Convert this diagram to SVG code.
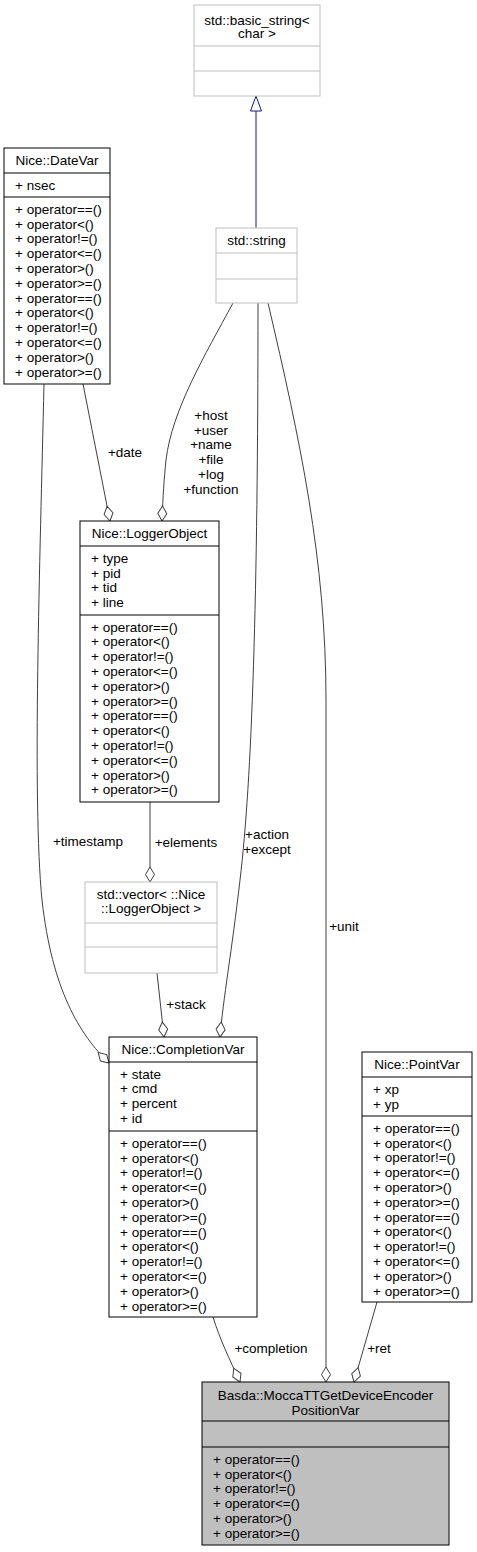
<svg xmlns="http://www.w3.org/2000/svg" width="477" height="1552" viewBox="0 0 477 1552">
<style>
.t{font-family:"Liberation Sans",Arial,Helvetica,sans-serif;font-size:13.5px;fill:#000}
.c{text-anchor:middle}
.box{fill:#fff;stroke:#000;stroke-width:1}
.ext{fill:#fff;stroke:#bfbfbf;stroke-width:1}
.main{fill:#bfbfbf;stroke:#000;stroke-width:1}
.sep{stroke:#000;stroke-width:1}
.sepx{stroke:#bfbfbf;stroke-width:1}
.edge{fill:none;stroke:#404040;stroke-width:1;marker-end:url(#dia)}
.inh{fill:none;stroke:#191970;stroke-width:1}
</style>
<defs>
<marker id="dia" markerWidth="17" markerHeight="11" refX="16" refY="5.5" orient="auto" markerUnits="userSpaceOnUse" viewBox="0 0 17 11">
<path d="M1,5.5 L8.5,1 L16,5.5 L8.5,10 Z" fill="#fff" stroke="#404040" stroke-width="1"/>
</marker>
</defs>
<rect width="477" height="1552" fill="#fff"/>

<g id="connectors">
<path class="inh" d="M256,228 V111"/>
<polygon points="256,96 250.5,111 261.5,111" fill="#fff" stroke="#191970"/>
<path class="edge" d="M44,384 C40,560 32,800 42,900 C52,990 80,1035 109,1063"/>
<path class="edge" d="M233,303 C205,355 172,410 166,460 C164,480 163,495 162,521"/>
<path class="edge" d="M83,384 L110,521"/>
<path class="edge" d="M150,802 L150,882"/>
<path class="edge" d="M157,973 L164,1037"/>
<path class="edge" d="M258,303 C258,600 252,780 240,880 C232,950 223,1000 220,1037"/>
<path class="edge" d="M268,303 C300,440 326,560 326,700 L326,1382"/>
<path class="edge" d="M213,1317 C220,1340 230,1360 240,1382"/>
<path class="edge" d="M377,1302 L354,1382"/>
<text class="t c" x="125" y="456.7">+date</text>
<text class="t c" y="419.7"><tspan x="211">+host</tspan><tspan x="211" dy="14.8">+user</tspan><tspan x="211" dy="14.8">+name</tspan><tspan x="211" dy="14.8">+file</tspan><tspan x="211" dy="14.8">+log</tspan><tspan x="211" dy="14.8">+function</tspan></text>
<text class="t c" x="88" y="845.7">+timestamp</text>
<text class="t c" x="186" y="846.7">+elements</text>
<text class="t c" y="838.7"><tspan x="267">+action</tspan><tspan x="267" dy="14.8">+except</tspan></text>
<text class="t c" x="344" y="930.7">+unit</text>
<text class="t c" x="186" y="1008.7">+stack</text>
<text class="t c" x="271" y="1352.7">+completion</text>
<text class="t c" x="379" y="1352.7">+ret</text>
</g>

<g id="basic_string">
<rect class="ext" x="194" y="5" width="126" height="91"/>
<line class="sepx" x1="194" y1="46" x2="320" y2="46"/>
<line class="sepx" x1="194" y1="71" x2="320" y2="71"/>
<text class="t c" y="24.5"><tspan x="257">std::basic_string&lt;</tspan><tspan x="257" dy="13.5">char &gt;</tspan></text>
</g>

<g id="std_string">
<rect class="ext" x="216" y="228" width="81" height="75"/>
<line class="sepx" x1="216" y1="253" x2="297" y2="253"/>
<line class="sepx" x1="216" y1="279" x2="297" y2="279"/>
<text class="t c" x="256.5" y="245">std::string</text>
</g>

<g id="DateVar">
<rect class="box" x="4" y="148" width="106" height="236"/>
<line class="sep" x1="4" y1="173" x2="110" y2="173"/>
<line class="sep" x1="4" y1="197" x2="110" y2="197"/>
<text class="t c" x="57" y="165">Nice::DateVar</text>
<text class="t" x="15" y="189.7">+ nsec</text>
<text class="t" y="213.7"><tspan x="15">+ operator==()</tspan><tspan x="15" dy="14.8">+ operator&lt;()</tspan><tspan x="15" dy="14.8">+ operator!=()</tspan><tspan x="15" dy="14.8">+ operator&lt;=()</tspan><tspan x="15" dy="14.8">+ operator&gt;()</tspan><tspan x="15" dy="14.8">+ operator&gt;=()</tspan><tspan x="15" dy="14.8">+ operator==()</tspan><tspan x="15" dy="14.8">+ operator&lt;()</tspan><tspan x="15" dy="14.8">+ operator!=()</tspan><tspan x="15" dy="14.8">+ operator&lt;=()</tspan><tspan x="15" dy="14.8">+ operator&gt;()</tspan><tspan x="15" dy="14.8">+ operator&gt;=()</tspan></text>
</g>

<g id="LoggerObject">
<rect class="box" x="80" y="521" width="139" height="281"/>
<line class="sep" x1="80" y1="546" x2="219" y2="546"/>
<line class="sep" x1="80" y1="615" x2="219" y2="615"/>
<text class="t c" x="149.5" y="538.2">Nice::LoggerObject</text>
<text class="t" y="562.7"><tspan x="91">+ type</tspan><tspan x="91" dy="14.8">+ pid</tspan><tspan x="91" dy="14.8">+ tid</tspan><tspan x="91" dy="14.8">+ line</tspan></text>
<text class="t" y="631.5"><tspan x="91">+ operator==()</tspan><tspan x="91" dy="14.8">+ operator&lt;()</tspan><tspan x="91" dy="14.8">+ operator!=()</tspan><tspan x="91" dy="14.8">+ operator&lt;=()</tspan><tspan x="91" dy="14.8">+ operator&gt;()</tspan><tspan x="91" dy="14.8">+ operator&gt;=()</tspan><tspan x="91" dy="14.8">+ operator==()</tspan><tspan x="91" dy="14.8">+ operator&lt;()</tspan><tspan x="91" dy="14.8">+ operator!=()</tspan><tspan x="91" dy="14.8">+ operator&lt;=()</tspan><tspan x="91" dy="14.8">+ operator&gt;()</tspan><tspan x="91" dy="14.8">+ operator&gt;=()</tspan></text>
</g>

<g id="vector_LoggerObject">
<rect class="ext" x="85" y="882" width="132" height="91"/>
<line class="sepx" x1="85" y1="923" x2="217" y2="923"/>
<line class="sepx" x1="85" y1="947" x2="217" y2="947"/>
<text class="t c" y="899"><tspan x="151">std::vector&lt; ::Nice</tspan><tspan x="151" dy="13.5">::LoggerObject &gt;</tspan></text>
</g>

<g id="CompletionVar">
<rect class="box" x="109" y="1037" width="148" height="280"/>
<line class="sep" x1="109" y1="1062" x2="257" y2="1062"/>
<line class="sep" x1="109" y1="1131" x2="257" y2="1131"/>
<text class="t c" x="183" y="1053.7">Nice::CompletionVar</text>
<text class="t" y="1078.5"><tspan x="120">+ state</tspan><tspan x="120" dy="14.8">+ cmd</tspan><tspan x="120" dy="14.8">+ percent</tspan><tspan x="120" dy="14.8">+ id</tspan></text>
<text class="t" y="1147.7"><tspan x="120">+ operator==()</tspan><tspan x="120" dy="14.8">+ operator&lt;()</tspan><tspan x="120" dy="14.8">+ operator!=()</tspan><tspan x="120" dy="14.8">+ operator&lt;=()</tspan><tspan x="120" dy="14.8">+ operator&gt;()</tspan><tspan x="120" dy="14.8">+ operator&gt;=()</tspan><tspan x="120" dy="14.8">+ operator==()</tspan><tspan x="120" dy="14.8">+ operator&lt;()</tspan><tspan x="120" dy="14.8">+ operator!=()</tspan><tspan x="120" dy="14.8">+ operator&lt;=()</tspan><tspan x="120" dy="14.8">+ operator&gt;()</tspan><tspan x="120" dy="14.8">+ operator&gt;=()</tspan></text>
</g>

<g id="PointVar">
<rect class="box" x="362" y="1052" width="110" height="250"/>
<line class="sep" x1="362" y1="1077" x2="472" y2="1077"/>
<line class="sep" x1="362" y1="1116" x2="472" y2="1116"/>
<text class="t c" x="417" y="1069.2">Nice::PointVar</text>
<text class="t" y="1093.7"><tspan x="373">+ xp</tspan><tspan x="373" dy="14.8">+ yp</tspan></text>
<text class="t" y="1132.7"><tspan x="373">+ operator==()</tspan><tspan x="373" dy="14.8">+ operator&lt;()</tspan><tspan x="373" dy="14.8">+ operator!=()</tspan><tspan x="373" dy="14.8">+ operator&lt;=()</tspan><tspan x="373" dy="14.8">+ operator&gt;()</tspan><tspan x="373" dy="14.8">+ operator&gt;=()</tspan><tspan x="373" dy="14.8">+ operator==()</tspan><tspan x="373" dy="14.8">+ operator&lt;()</tspan><tspan x="373" dy="14.8">+ operator!=()</tspan><tspan x="373" dy="14.8">+ operator&lt;=()</tspan><tspan x="373" dy="14.8">+ operator&gt;()</tspan><tspan x="373" dy="14.8">+ operator&gt;=()</tspan></text>
</g>

<g id="MoccaTTGetDeviceEncoderPositionVar">
<rect class="main" x="202" y="1382" width="247" height="163"/>
<line class="sep" x1="202" y1="1421" x2="449" y2="1421"/>
<line class="sep" x1="202" y1="1447" x2="449" y2="1447"/>
<text class="t c" y="1399.7"><tspan x="325.5">Basda::MoccaTTGetDeviceEncoder</tspan><tspan x="325.5" dy="15">PositionVar</tspan></text>
<text class="t" y="1463.7"><tspan x="213">+ operator==()</tspan><tspan x="213" dy="14.8">+ operator&lt;()</tspan><tspan x="213" dy="14.8">+ operator!=()</tspan><tspan x="213" dy="14.8">+ operator&lt;=()</tspan><tspan x="213" dy="14.8">+ operator&gt;()</tspan><tspan x="213" dy="14.8">+ operator&gt;=()</tspan></text>
</g>
</svg>
